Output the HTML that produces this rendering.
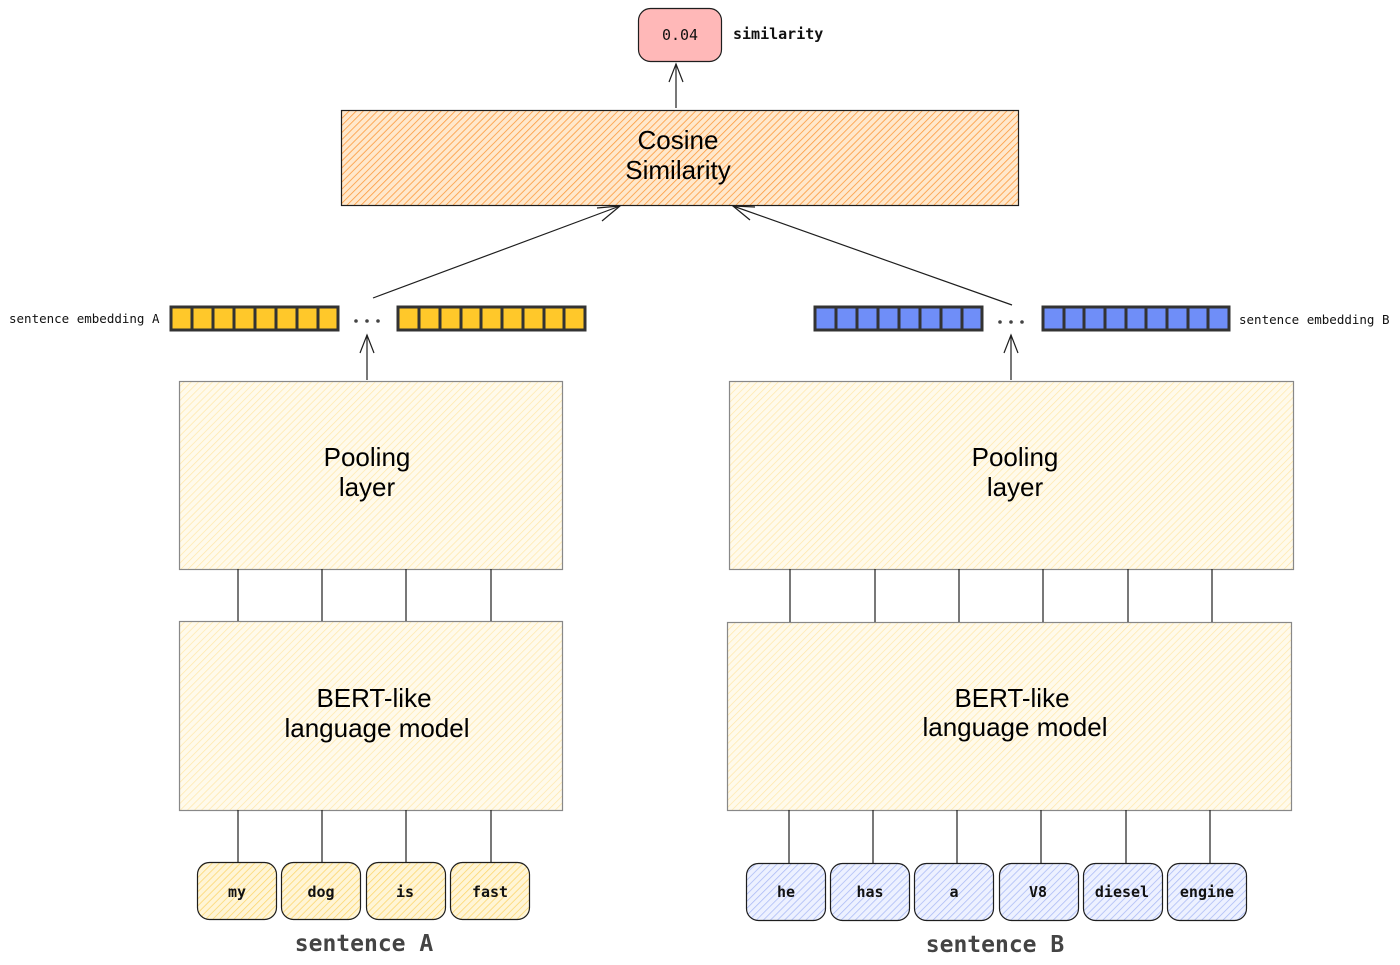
<!DOCTYPE html>
<html><head><meta charset="utf-8"><style>
html,body{margin:0;padding:0;background:#fff;}
svg{display:block;}
.m{font-family:"DejaVu Sans Mono","Liberation Mono",monospace;}
.s{font-family:"Liberation Sans",Arial,sans-serif;}
</style></head><body>
<svg width="1400" height="965" viewBox="0 0 1400 965" xmlns="http://www.w3.org/2000/svg">
<defs>
<pattern id="ho" width="5" height="5" patternUnits="userSpaceOnUse" patternTransform="rotate(45)"><rect width="5" height="5" fill="#ffe8cc"/><line x1="0" y1="0" x2="0" y2="5" stroke="#fd9a3c" stroke-width="1.6"/></pattern>
<pattern id="hy" width="5" height="5" patternUnits="userSpaceOnUse" patternTransform="rotate(45)"><rect width="5" height="5" fill="#fffaeb"/><line x1="0" y1="0" x2="0" y2="5" stroke="#ffe7a8" stroke-width="1.4"/></pattern>
<pattern id="ht" width="5" height="5" patternUnits="userSpaceOnUse" patternTransform="rotate(45)"><rect width="5" height="5" fill="#fff5d6"/><line x1="0" y1="0" x2="0" y2="5" stroke="#fcd56a" stroke-width="1.5"/></pattern>
<pattern id="hb" width="5" height="5" patternUnits="userSpaceOnUse" patternTransform="rotate(45)"><rect width="5" height="5" fill="#edf1ff"/><line x1="0" y1="0" x2="0" y2="5" stroke="#a9b9f5" stroke-width="1.5"/></pattern>
</defs>
<g stroke="#1e1e1e" fill="none" stroke-width="1.2">
<rect x="638.5" y="8.5" width="83" height="53" rx="12" fill="#ffb8b8"/>
<line x1="676" y1="108" x2="676" y2="64"/><polyline points="669,82 676,64 683,82"/>
<rect x="341.5" y="110.5" width="677" height="95" fill="url(#ho)"/>
<line x1="373" y1="298" x2="620" y2="206"/><polyline points="597,208 620,206 602,221"/>
<line x1="1012" y1="305" x2="733" y2="206"/><polyline points="750,220 733,206 755,207"/>
<line x1="367" y1="380" x2="367" y2="335"/><polyline points="360,353 367,335 374,353"/>
<line x1="1011" y1="380" x2="1011" y2="335"/><polyline points="1004,353 1011,335 1018,353"/>
<rect x="179.5" y="381.5" width="383" height="188" fill="url(#hy)" stroke="#888"/>
<rect x="179.5" y="621.5" width="383" height="189" fill="url(#hy)" stroke="#888"/>
<rect x="729.5" y="381.5" width="564" height="188" fill="url(#hy)" stroke="#888"/>
<rect x="727.5" y="622.5" width="564" height="188" fill="url(#hy)" stroke="#888"/>
<path d="M238 569V621M322 569V621M406 569V621M491 569V621M238 810V862M322 810V862M406 810V862M491 810V862"/>
<path d="M790 569V622M875 569V622M959 569V622M1043 569V622M1128 569V622M1212 569V622M789 810V863M873 810V863M957 810V863M1041 810V863M1126 810V863M1210 810V863"/>
<rect x="197.5" y="862.5" width="79" height="57" rx="12" fill="url(#ht)"/>
<rect x="281.5" y="862.5" width="79" height="57" rx="12" fill="url(#ht)"/>
<rect x="366.5" y="862.5" width="79" height="57" rx="12" fill="url(#ht)"/>
<rect x="450.5" y="862.5" width="79" height="57" rx="12" fill="url(#ht)"/>
<rect x="746.5" y="863.5" width="79" height="57" rx="12" fill="url(#hb)"/>
<rect x="830.5" y="863.5" width="79" height="57" rx="12" fill="url(#hb)"/>
<rect x="914.5" y="863.5" width="79" height="57" rx="12" fill="url(#hb)"/>
<rect x="999.5" y="863.5" width="79" height="57" rx="12" fill="url(#hb)"/>
<rect x="1083.5" y="863.5" width="79" height="57" rx="12" fill="url(#hb)"/>
<rect x="1167.5" y="863.5" width="79" height="57" rx="12" fill="url(#hb)"/>
</g>
<g stroke="#333" stroke-width="3" fill="#ffc82a">
<rect x="171" y="307" width="167" height="23"/>
<path d="M192 307V330M213 307V330M234 307V330M255 307V330M276 307V330M297 307V330M318 307V330"/>
<rect x="398" y="307" width="187" height="23"/>
<path d="M419 307V330M440 307V330M461 307V330M481 307V330M502 307V330M523 307V330M544 307V330M564 307V330"/>
</g>
<g stroke="#333" stroke-width="3" fill="#6f8ef8">
<rect x="815" y="307" width="167" height="23"/>
<path d="M836 307V330M857 307V330M878 307V330M899 307V330M920 307V330M941 307V330M962 307V330"/>
<rect x="1043" y="307" width="186" height="23"/>
<path d="M1064 307V330M1084 307V330M1105 307V330M1126 307V330M1146 307V330M1167 307V330M1188 307V330M1208 307V330"/>
</g>
<g fill="#444"><circle cx="356" cy="321" r="1.8"/><circle cx="367" cy="321" r="1.8"/><circle cx="378" cy="321" r="1.8"/>
<circle cx="1000" cy="322" r="1.8"/><circle cx="1011" cy="322" r="1.8"/><circle cx="1022" cy="322" r="1.8"/></g>
<g class="m" fill="#111">
<text x="680" y="40" font-size="15" text-anchor="middle">0.04</text>
<text x="733" y="39" font-size="15" font-weight="bold">similarity</text>
<text x="9" y="323" font-size="12.5">sentence embedding A</text>
<text x="1239" y="324" font-size="12.5">sentence embedding B</text>
<g font-size="15" font-weight="bold" text-anchor="middle">
<text x="237" y="897">my</text><text x="321" y="897">dog</text><text x="405" y="897">is</text><text x="490" y="897">fast</text>
<text x="786" y="897">he</text><text x="870" y="897">has</text><text x="954" y="897">a</text><text x="1038" y="897">V8</text><text x="1122" y="897">diesel</text><text x="1207" y="897">engine</text>
</g>
<g font-size="23" font-weight="bold" fill="#444" text-anchor="middle">
<text x="364" y="951">sentence A</text><text x="995" y="952">sentence B</text>
</g>
</g>
<g class="s" fill="#000" font-size="26" text-anchor="middle">
<text x="678" y="149">Cosine</text><text x="678" y="179">Similarity</text>
<text x="367" y="466">Pooling</text><text x="367" y="496">layer</text>
<text x="374" y="707">BERT-like</text><text x="377" y="737">language model</text>
<text x="1015" y="466">Pooling</text><text x="1015" y="496">layer</text>
<text x="1012" y="707">BERT-like</text><text x="1015" y="736">language model</text>
</g>
</svg>
</body></html>
